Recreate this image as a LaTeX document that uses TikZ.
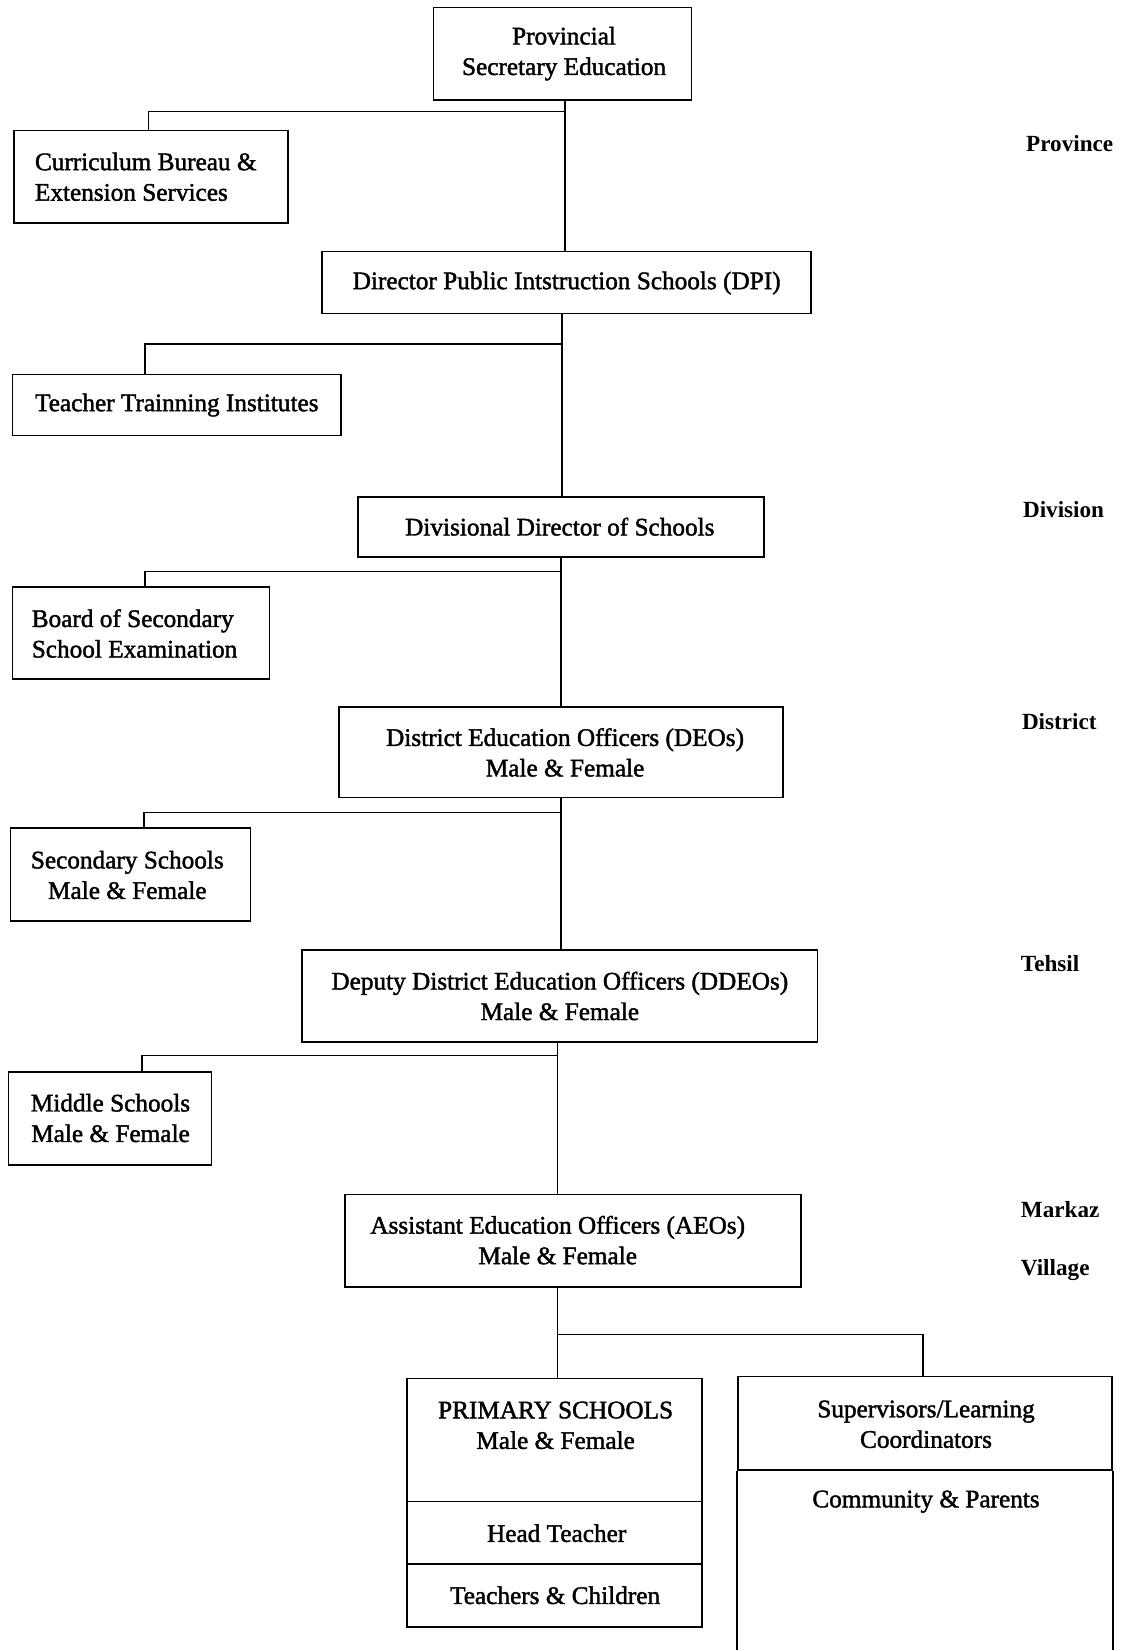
\documentclass[tikz,border=0pt]{standalone}
\usepackage{fontspec}
\setmainfont{Liberation Serif}[FakeBold=1.6]
\newfontfamily\lvlfont{Liberation Serif}
\begin{document}
\begin{tikzpicture}[x=1pt,y=-1pt,
  box/.style={draw,line width=1.6pt,inner sep=0pt},
  txt/.style={align=center,font=\fontsize{24}{29}\selectfont,inner sep=0pt},
  ltxt/.style={align=left,font=\fontsize{24}{29}\selectfont,inner sep=0pt,anchor=west},
  lvl/.style={font=\lvlfont\bfseries\fontsize{22}{26}\selectfont,anchor=west,inner sep=0pt},
  conn/.style={line width=1.4pt}]
\useasboundingbox (0,0) rectangle (1068,1568);

% boxes
\node[box,minimum width=245pt,minimum height=88pt] (prov) at (534.5,51) {};
\node[txt] (provt) at (536,51) {Provincial\\Secretary Education};

\node[box,minimum width=261pt,minimum height=88pt] (cur) at (143.5,168) {};
\node[ltxt] (curt) at (33,168) {Curriculum Bureau \&\\Extension Services};

\node[box,minimum width=465pt,minimum height=59pt] (dpi) at (538.5,268.5) {};
\node[txt] (dpit) at (538.5,269) {Director Public Intstruction Schools (DPI)};

\node[box,minimum width=312pt,minimum height=58pt] (tti) at (168,385) {};
\node[txt] (ttit) at (168,385) {Teacher Trainning Institutes};

\node[box,minimum width=386pt,minimum height=57pt] (div) at (533,500.5) {};
\node[txt] (divt) at (532,500.5) {Divisional Director of Schools};

\node[box,minimum width=244pt,minimum height=87pt] (bsse) at (134,601.5) {};
\node[ltxt] (bsset) at (30,602) {Board of Secondary\\School Examination};

\node[box,minimum width=422pt,minimum height=86pt] (deo) at (533,715) {};
\node[txt] (deot) at (537,715) {District Education Officers (DEOs)\\Male \& Female};

\node[box,minimum width=228pt,minimum height=88pt] (sec) at (124,831) {};
\node[txt] (sect) at (121,831.5) {Secondary Schools\\Male \& Female};

\node[box,minimum width=490pt,minimum height=87pt] (ddeo) at (532,946.5) {};
\node[txt] (ddeot) at (532,946.5) {Deputy District Education Officers (DDEOs)\\Male \& Female};

\node[box,minimum width=193pt,minimum height=88pt] (mid) at (104.5,1063) {};
\node[txt] (midt) at (105,1062.5) {Middle Schools\\Male \& Female};

\node[box,minimum width=433pt,minimum height=88pt] (aeo) at (544.5,1179) {};
\node[txt] (aeot) at (530,1178.5) {Assistant Education Officers (AEOs)\\Male \& Female};

\node[box,minimum width=280pt,minimum height=117pt] (prim) at (527,1368.5) {};
\node[txt] (primt) at (528,1354.5) {PRIMARY SCHOOLS\\Male \& Female};
\node[box,minimum width=280pt,minimum height=59pt] (head) at (527,1456.5) {};
\node[txt] (headt) at (529,1457) {Head Teacher};
\node[box,minimum width=280pt,minimum height=60pt] (teach) at (527,1516) {};
\node[txt] (teacht) at (527.5,1516) {Teachers \& Children};

\node[box,minimum width=356pt,minimum height=89pt] (sup) at (879,1352.5) {};
\node[txt] (supt) at (880,1353.5) {Supervisors/Learning\\Coordinators};
\node[txt] (comt) at (880,1427) {Community \& Parents};
\coordinate (bottom) at (0,1568);
\draw[line width=1.6pt] (sup.south west) -- (sup.south west |- bottom);
\draw[line width=1.6pt] (sup.south east) -- (sup.south east |- bottom);

% level labels
\node[lvl] (l1) at (975,136) {Province};
\node[lvl] (l2) at (972,484) {Division};
\node[lvl] (l3) at (971,686) {District};
\node[lvl] (l4) at (970,916) {Tehsil};
\node[lvl] (l5) at (970,1149) {Markaz};
\node[lvl] (l6) at (970,1207) {Village};

% connectors
\coordinate (j1) at (537,106);
\coordinate (leg1) at (141,0);
\draw[conn] (prov.south -| j1) -- (dpi.north -| j1);
\draw[conn] (j1) -| (cur.north -| leg1);

\coordinate (j2) at (534,327);
\coordinate (leg2) at (138,0);
\draw[conn] (dpi.south -| j2) -- (div.north -| j2);
\draw[conn] (j2) -| (tti.north -| leg2);

\coordinate (j3) at (533,543);
\coordinate (leg3) at (138,0);
\draw[conn] (div.south -| j3) -- (deo.north -| j3);
\draw[conn] (j3) -| (bsse.north -| leg3);

\coordinate (j4) at (533,772);
\coordinate (leg4) at (137,0);
\draw[conn] (deo.south -| j4) -- (ddeo.north -| j4);
\draw[conn] (j4) -| (sec.north -| leg4);

\coordinate (j5) at (530,1003);
\coordinate (leg5) at (135,0);
\draw[conn] (ddeo.south -| j5) -- (aeo.north -| j5);
\draw[conn] (j5) -| (mid.north -| leg5);

\coordinate (j6) at (530,1268);
\coordinate (leg6) at (877,0);
\draw[conn] (aeo.south -| j6) -- (prim.north -| j6);
\draw[conn] (j6) -| (sup.north -| leg6);
\end{tikzpicture}
\end{document}
